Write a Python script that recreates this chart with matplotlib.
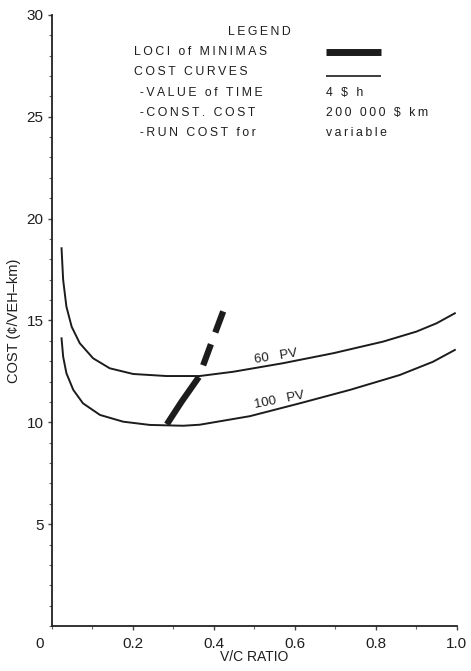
import numpy as np
import matplotlib.pyplot as plt
from matplotlib.ticker import MultipleLocator

plt.rcParams['font.family'] = ['Liberation Sans', 'DejaVu Sans']

# cost curves (V/C ratio vs cost in cents per veh-km)
vc_60 = [0.024, 0.028, 0.036, 0.049, 0.069, 0.102, 0.143, 0.201, 0.283, 0.365,
         0.448, 0.571, 0.695, 0.818, 0.90, 0.95, 0.995]
cost_60 = [18.54, 16.99, 15.68, 14.69, 13.88, 13.14, 12.65, 12.37, 12.27, 12.27,
           12.48, 12.9, 13.39, 13.96, 14.45, 14.86, 15.35]

vc_100 = [0.024, 0.028, 0.036, 0.053, 0.077, 0.119, 0.176, 0.242, 0.324, 0.365,
          0.489, 0.612, 0.736, 0.859, 0.941, 0.995]
cost_100 = [14.12, 13.22, 12.41, 11.59, 10.93, 10.36, 10.03, 9.87, 9.83, 9.88,
            10.3, 10.93, 11.59, 12.32, 12.97, 13.55]

# loci of the minima: solid between the two curves, dashed above
loci_vc = [0.284, 0.32, 0.363]
loci_cost = [9.9, 11.0, 12.22]
loci_ext_vc = [0.363, 0.393, 0.427]
loci_ext_cost = [12.22, 13.84, 15.65]

x_ticks = [0.2, 0.4, 0.6, 0.8, 1.0]
x_labels = ['0.2', '0.4', '0.6', '0.8', '1.0']
y_ticks = [5, 10, 15, 20, 25, 30]
y_labels = ['5', '10', '15', '20', '25', '30']

legend_left = ['LOCI of MINIMAS', 'COST CURVES', ' -VALUE of TIME', ' -CONST. COST', ' -RUN COST for']
legend_right = [None, None, '4 $ h', '200 000 $ km', 'variable']


def track(s):
    # wide letter spacing like the old stencil lettering
    return '\u2009'.join(s)


ink = '#1c1c1c'
txt = '#1e1e1e'
fig = plt.figure(figsize=(4.71, 6.71), dpi=100)
ax = fig.add_axes([0.110, 0.067, 0.860, 0.911])

ax.plot(vc_60, cost_60, color=ink, lw=1.4, solid_joinstyle='round')
ax.plot(vc_100, cost_100, color=ink, lw=1.4, solid_joinstyle='round')
ax.plot(loci_vc, loci_cost, color=ink, lw=4.5, solid_capstyle='butt')
ax.plot(loci_ext_vc, loci_ext_cost, color=ink, lw=4.5,
        linestyle=(3.6, (3.6, 2.0)), dash_capstyle='butt')

ax.text(0.553, 12.75, '60   PV', rotation=9, fontsize=9.5, ha='center', va='bottom',
        color=txt)
ax.text(0.563, 10.55, '100   PV', rotation=11, fontsize=9.5, ha='center', va='bottom',
        color=txt)

ax.set_xlim(0, 1.0)
ax.set_ylim(0, 30)
ax.spines['top'].set_visible(False)
ax.spines['right'].set_visible(False)
for s in ('left', 'bottom'):
    ax.spines[s].set_linewidth(1.3)
    ax.spines[s].set_color('#222222')

ax.set_xticks(x_ticks)
ax.set_xticklabels(x_labels)
ax.set_yticks(y_ticks)
ax.set_yticklabels(y_labels)
ax.xaxis.set_minor_locator(MultipleLocator(0.1))
ax.yaxis.set_minor_locator(MultipleLocator(1))
ax.tick_params(axis='both', which='major', labelsize=11, length=3, width=1,
               color='#444444', labelcolor=txt)
ax.tick_params(axis='both', which='minor', length=2, width=0.8, color='#666666')
ax.tick_params(axis='x', which='major', pad=5)
ax.tick_params(axis='y', which='major', pad=3)
ax.text(-0.03, -0.018, '0', transform=ax.transAxes, fontsize=11, ha='center',
        va='top', color=txt)

ax.set_xlabel('V/C RATIO', fontsize=10, labelpad=-1, color=txt)
ax.set_ylabel('COST (\u00a2/VEH\u2013km)', fontsize=10.5, labelpad=4, color=txt)

# legend block
lx, rx = 0.2025, 0.677
row_y = [0.939, 0.907, 0.872, 0.840, 0.807]
ax.text(0.513, 0.972, track('LEGEND'), transform=ax.transAxes, fontsize=8.8,
        ha='center', va='center', color=txt)
for left, right, yy in zip(legend_left, legend_right, row_y):
    ax.text(lx, yy, track(left), transform=ax.transAxes, fontsize=8.8, ha='left',
            va='center', color=txt)
    if right:
        ax.text(rx, yy, track(right), transform=ax.transAxes, fontsize=8.8, ha='left',
                va='center', color=txt)
ax.plot([rx, rx + 0.135], [row_y[0], row_y[0]], transform=ax.transAxes, color=ink,
        lw=5, solid_capstyle='butt')
ax.plot([rx, rx + 0.135], [0.900, 0.900], transform=ax.transAxes, color=ink,
        lw=1.2, solid_capstyle='butt')

fig.savefig('out.png', dpi=100)
plt.close('all')
